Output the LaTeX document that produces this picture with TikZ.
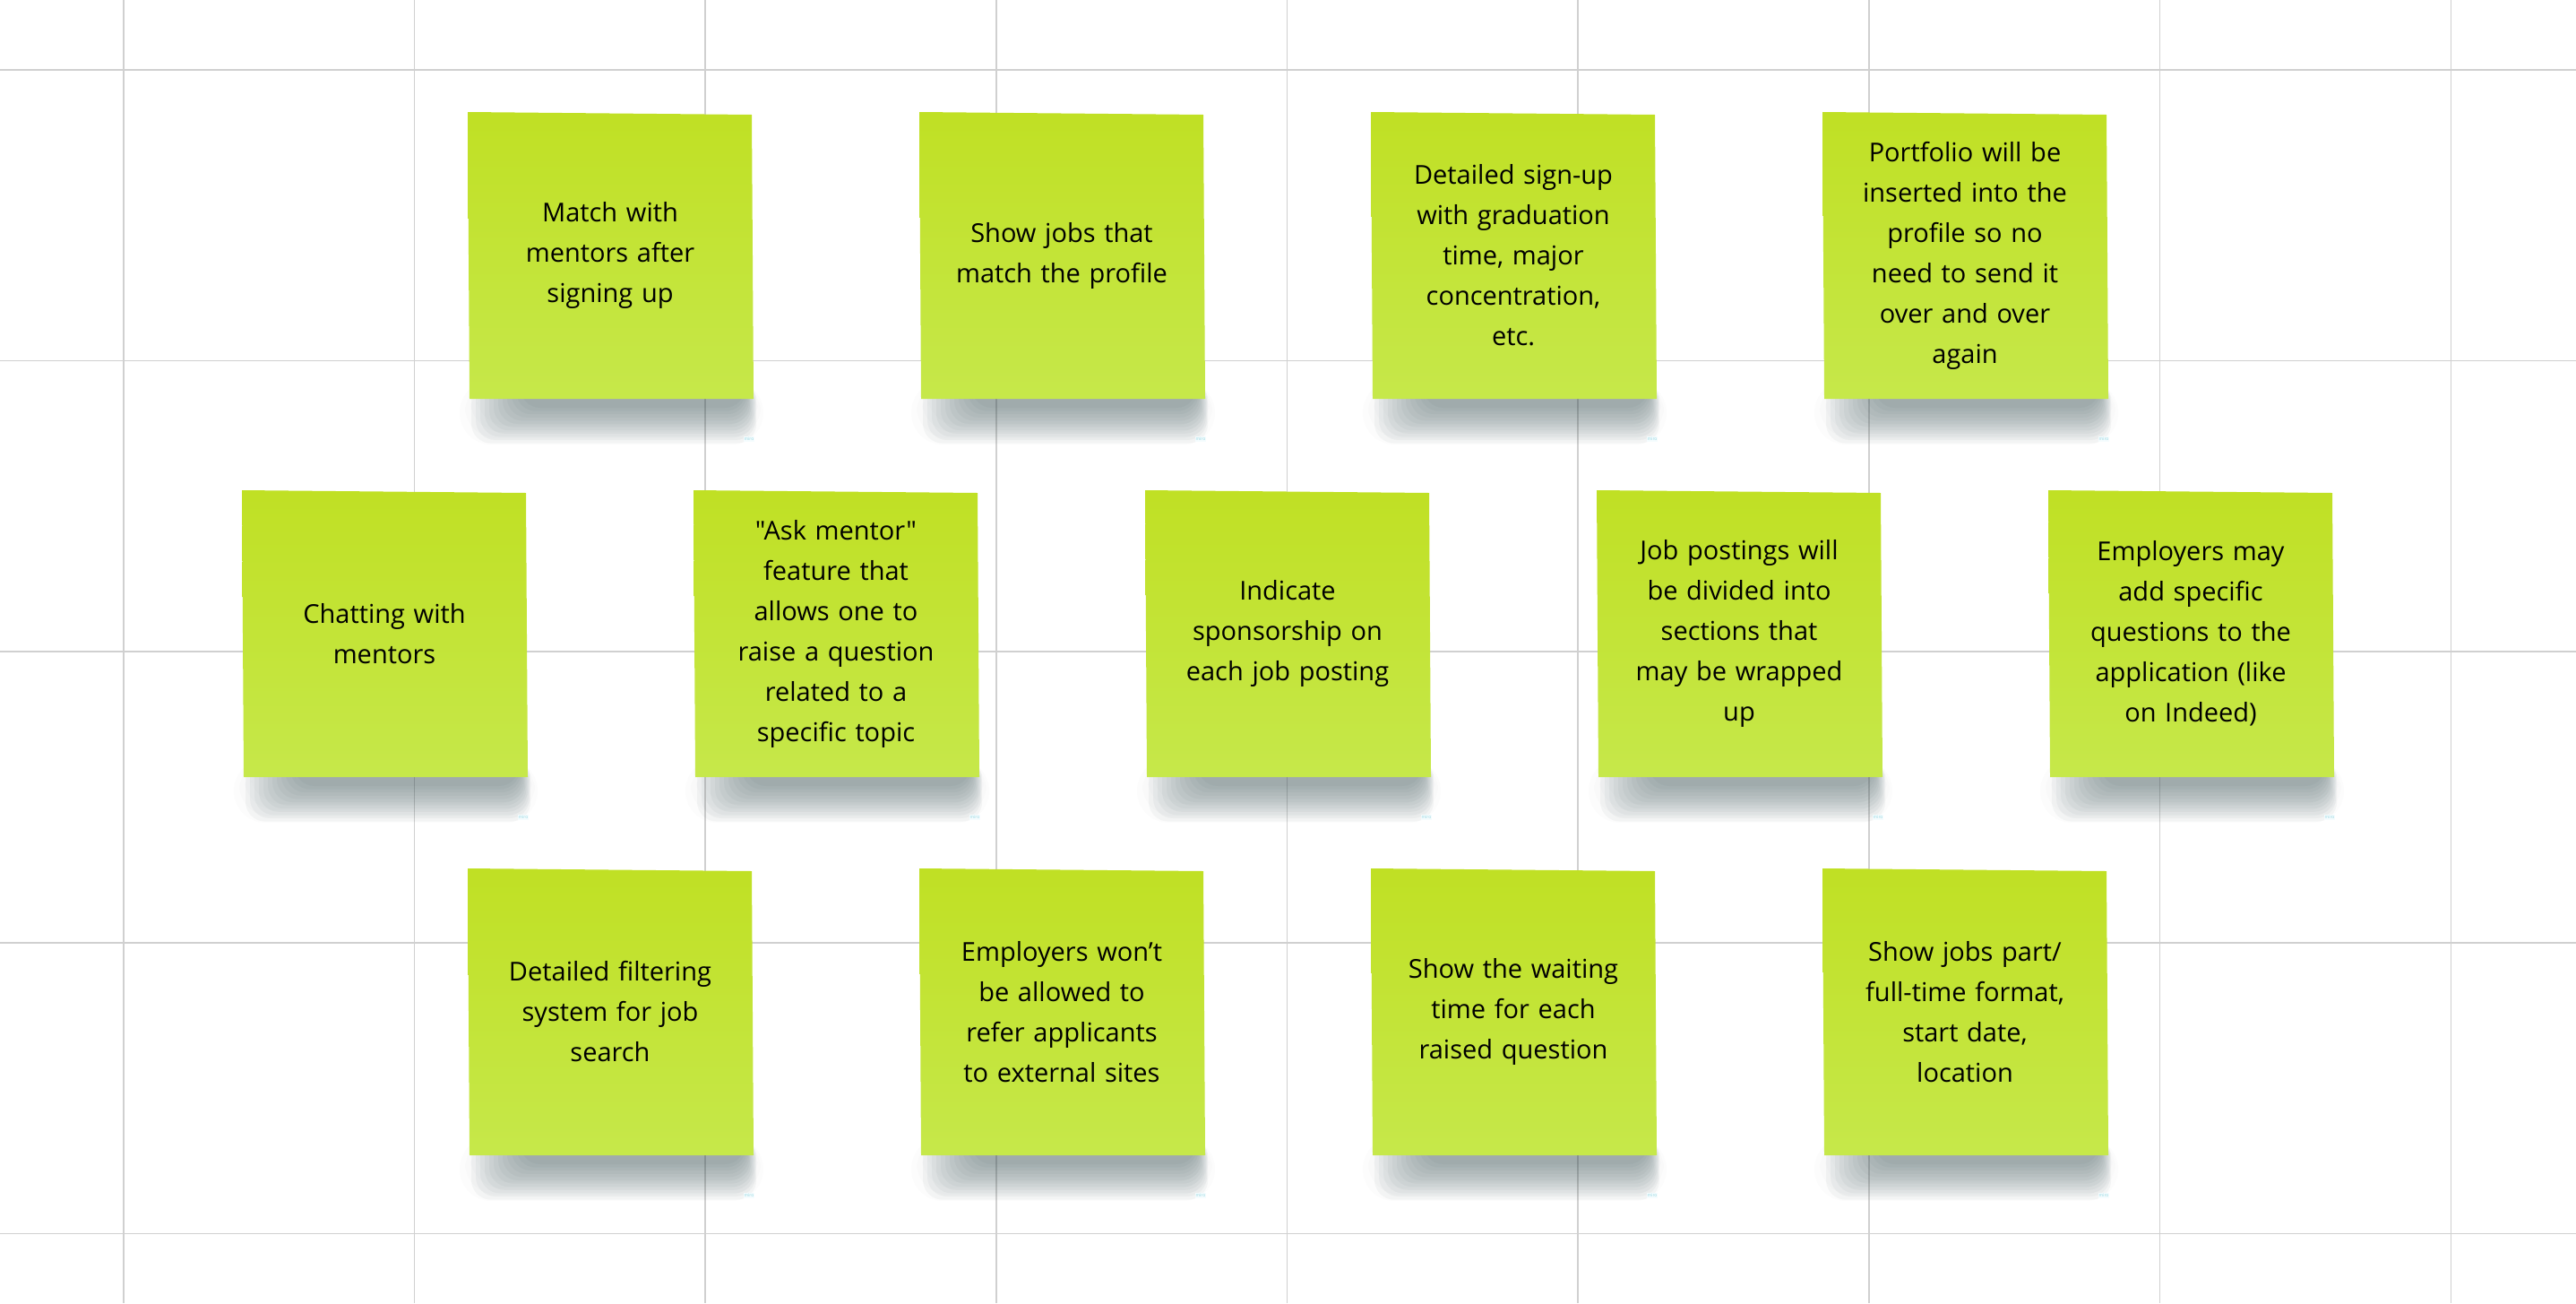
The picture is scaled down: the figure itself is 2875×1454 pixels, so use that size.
\documentclass[tikz,border=0pt]{standalone}
\usepackage{fontspec}
\newfontfamily\notefont{Open Sans}
\usepackage{tikz}

\definecolor{gridgray}{RGB}{208,208,208}
\definecolor{notetop}{RGB}{192,224,36}
\definecolor{notebot}{RGB}{198,232,74}
\definecolor{shadowcol}{RGB}{50,78,80}
\definecolor{mirocol}{RGB}{150,215,225}

\tikzset{
	gridline/.style={draw=gridgray,line width=1.6pt},
	notetext/.style={text width=300pt,align=center,inner sep=0pt,
		font=\notefont\fontsize{29}{45}\selectfont,text=black},
	noteshadow/.style={fill=shadowcol,opacity=0.045,rounded corners=22pt},
	noteglow/.style={fill=shadowcol,opacity=0.01,rounded corners=35pt},
	mirolabel/.style={font=\notefont\fontsize{5}{5}\selectfont,text=mirocol,
		fill=cyan!4,inner sep=1pt}
}

% one sticky note: name, centre x, centre y, text
\newcommand\sticky[4]{%
	\coordinate (#1c) at (#2,#3);
	\foreach \k in {0,...,3}
		\fill[noteglow] ([shift={(-150-6*\k,140)}]#1c) rectangle ([shift={(162+3*\k,190+7*\k)}]#1c);
	\foreach \k in {0,...,11}
		\fill[noteshadow] ([shift={(-100-5*\k,140)}]#1c) rectangle ([shift={(150+1.2*\k,170+3.6*\k)}]#1c);
	\shade[top color=notetop,bottom color=notebot]
		([shift={(-159,-160)}]#1c) -- ([shift={(158,-157)}]#1c)
		-- ([shift={(160,160)}]#1c) -- ([shift={(-157,160)}]#1c) -- cycle;
	\node[notetext] (#1) at (#1c) {#4};
	\node[mirolabel] (#1m) at ([shift={(155,205)}]#1c) {miro};
}

\begin{document}
\begin{tikzpicture}[x=1pt,y=-1pt]
	\useasboundingbox (0,0) rectangle (2875,1454);
	\fill[white] (0,0) rectangle (2875,1454);

	\foreach \i in {0,...,8}
		\draw[gridline] ({137.7+324.7*\i},0) -- ({137.7+324.7*\i},1454);
	\foreach \j in {0,...,4}
		\draw[gridline] (0,{77.7+324.7*\j}) -- (2875,{77.7+324.7*\j});

	\sticky{match}{681}{285}{Match with\\mentors after\\signing up}
	\sticky{jobs}{1185}{285}{Show jobs that\\match the profile}
	\sticky{signup}{1689}{285}{Detailed sign-up\\with graduation\\time, major\\concentration,\\etc.}
	\sticky{portfolio}{2193}{285}{Portfolio will be\\inserted into the\\profile so no\\need to send it\\over and over\\again}

	\sticky{chat}{429}{707}{Chatting with\\mentors}
	\sticky{ask}{933}{707}{"Ask mentor"\\feature that\\allows one to\\raise a question\\related to a\\specific topic}
	\sticky{sponsor}{1437}{707}{Indicate\\sponsorship on\\each job posting}
	\sticky{sections}{1941}{707}{Job postings will\\be divided into\\sections that\\may be wrapped\\up}
	\sticky{questions}{2445}{707}{Employers may\\add specific\\questions to the\\application (like\\on Indeed)}

	\sticky{filter}{681}{1129}{Detailed filtering\\system for job\\search}
	\sticky{external}{1185}{1129}{Employers won’t\\be allowed to\\refer applicants\\to external sites}
	\sticky{waiting}{1689}{1129}{Show the waiting\\time for each\\raised question}
	\sticky{format}{2193}{1129}{Show jobs part/\\full-time format,\\start date,\\location}
\end{tikzpicture}
\end{document}
